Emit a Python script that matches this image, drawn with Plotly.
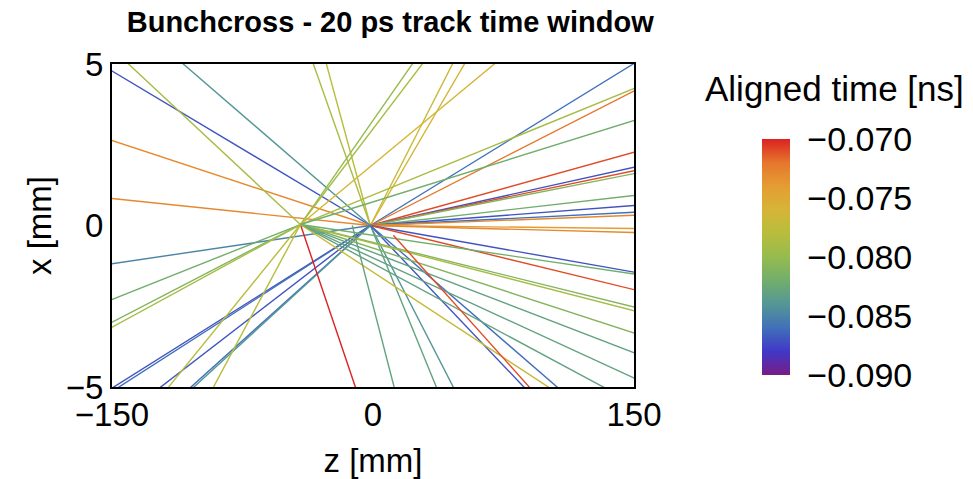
import plotly.graph_objects as go
from plotly.colors import sample_colorscale

# ---- data: tracks (origin, slope dx/dz, direction along z, aligned time [ns])
vertex_A = (-1.5, 0.0)
vertex_B = (-41.7, 0.03)

track_origin = ["A"] * 32 + ["B"] * 20 + ["C", "D"]
track_slope = [
    -0.0322, -0.0177, -0.00563, 0.00798, -0.1526, -0.1977, -0.0465, 0.106, 0.0925, 0.0331,
    0.0275, 0.01495, 0.0119, 0.0112, 0.0106, 0.00612, 0.00408, 0.00271, 0.00208, -0.00061,
    -0.00143, -0.00953, -0.0131, -0.132, -0.105, -0.0567, -0.0466, 0.0339, 0.0346, 0.0415,
    0.0485, 0.0493,
    0.0214, 0.02794, 0.02937, -0.0503, 0.0773, 0.0710, 0.0446, 0.02197, 0.0168, -0.1593,
    -0.01333, -0.01393, -0.0175, -0.0207, -0.0248, -0.0289, -0.0353, 0.0664, 0.1007, -0.0080,
    -0.0602, -0.208,
]
track_dir = [
    -1, -1, -1, -1, -1, -1, -1, 1, 1, 1,
    1, 1, 1, 1, 1, 1, 1, 1, 1, 1,
    1, 1, 1, 1, 1, 1, 1, -1, -1, -1,
    -1, -1,
    -1, -1, -1, -1, 1, 1, 1, 1, 1, 1,
    1, 1, 1, 1, 1, 1, 1, -1, -1, 1,
    1, 1,
]
track_time = [
    -0.087, -0.073, -0.073, -0.085, -0.079, -0.078, -0.084, -0.077, -0.076, -0.086,
    -0.072, -0.071, -0.087, -0.071, -0.081, -0.082, -0.087, -0.086, -0.073, -0.074,
    -0.073, -0.087, -0.071, -0.083, -0.084, -0.087, -0.086, -0.087, -0.086, -0.087,
    -0.086, -0.084,
    -0.082, -0.081, -0.079, -0.079, -0.080, -0.079, -0.076, -0.079, -0.082, -0.070,
    -0.081, -0.079, -0.081, -0.083, -0.083, -0.083, -0.077, -0.078, -0.078, -0.082,
    -0.071, -0.083,
]
other_origins = {"C": (11.7, -0.30), "D": (-11.9, 0.0)}

z_ticks = [-150, 0, 150]
x_ticks = [-5, 0, 5]
t_min, t_max = -0.090, -0.070
t_ticks = [-0.090, -0.085, -0.080, -0.075, -0.070]

rainbow = [
    [0.0, "rgb(120,28,134)"], [0.1, "rgb(64,56,199)"], [0.2, "rgb(65,112,186)"],
    [0.3, "rgb(85,150,150)"], [0.4, "rgb(113,174,108)"], [0.5, "rgb(149,187,78)"],
    [0.6, "rgb(184,189,60)"], [0.7, "rgb(213,181,55)"], [0.8, "rgb(228,157,51)"],
    [0.9, "rgb(230,118,44)"], [1.0, "rgb(219,33,34)"],
]

origins = {"A": vertex_A, "B": vertex_B, **other_origins}
FONT = "Liberation Sans, Arial, sans-serif"

fig = go.Figure()
reach = 400.0
for org, s, d, t in zip(track_origin, track_slope, track_dir, track_time):
    z0, x0 = origins[org]
    col = sample_colorscale(rainbow, [(t - t_min) / (t_max - t_min)])[0]
    fig.add_trace(go.Scatter(
        x=[z0, z0 + d * reach], y=[x0, x0 + d * reach * s],
        mode="lines", line=dict(color=col, width=1.4),
        showlegend=False, hoverinfo="skip",
    ))

# colour bar carrier
fig.add_trace(go.Scatter(
    x=[0], y=[100], mode="markers",
    marker=dict(color=[t_min], colorscale=rainbow, cmin=t_min, cmax=t_max, size=1,
                showscale=True,
                colorbar=dict(
                    x=1.245, xanchor="left", xref="paper", xpad=0, ypad=0,
                    y=0.402, yanchor="middle",
                    lenmode="pixels", len=236, thickness=28,
                    outlinewidth=0, tickvals=t_ticks, tickformat=".3f",
                    ticks="outside", ticklen=11, tickcolor="rgba(0,0,0,0)",
                    tickfont=dict(family=FONT, size=34, color="black"),
                )),
    showlegend=False, hoverinfo="skip",
))

fig.update_layout(
    width=973, height=479,
    margin=dict(l=111.5, r=339, t=63.5, b=92, autoexpand=False),
    paper_bgcolor="white", plot_bgcolor="white",
    title=dict(text="<b>Bunchcross - 20 ps track time window</b>",
               x=0.533, xref="paper", xanchor="center",
               y=1 - 22 / 479, yref="container", yanchor="middle",
               font=dict(family=FONT, size=29, color="black")),
    xaxis=dict(range=[-150, 150], tickvals=z_ticks, showgrid=False, zeroline=False,
               showline=True, mirror=True, linecolor="black", linewidth=2,
               ticks="", ticklabelstandoff=-3, automargin=False,
               tickfont=dict(family=FONT, size=33, color="black"),
               title=dict(text="z [mm]", font=dict(family=FONT, size=33, color="black"),
                          standoff=19)),
    yaxis=dict(range=[-5, 5], tickvals=x_ticks, showgrid=False, zeroline=False,
               showline=True, mirror=True, linecolor="black", linewidth=2,
               ticks="", automargin=False,
               tickfont=dict(family=FONT, size=33, color="black"),
               title=dict(text="x [mm]", font=dict(family=FONT, size=33, color="black"),
                          standoff=4)),
    annotations=[dict(text="Aligned time [ns]", xref="paper", yref="paper",
                      x=1.132, y=0.924, xanchor="left", yanchor="middle", showarrow=False,
                      font=dict(family=FONT, size=35, color="black"))],
)

fig.write_html("out.html", config={"displayModeBar": False},
               post_script="document.body.style.margin='0';")
